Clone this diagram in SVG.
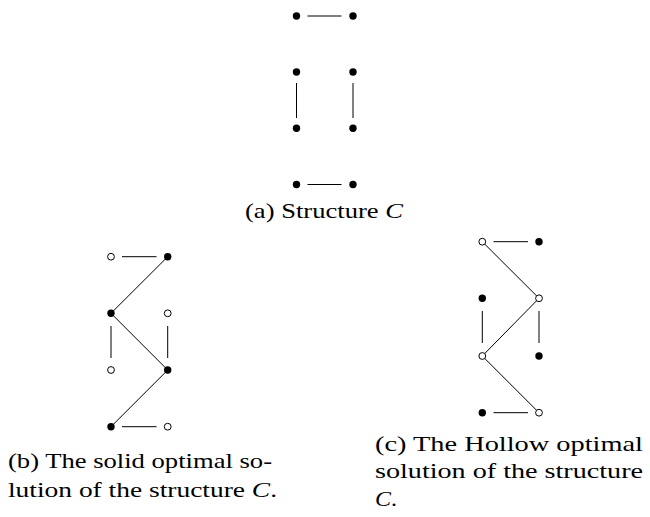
<svg xmlns="http://www.w3.org/2000/svg" width="650" height="517" viewBox="0 0 650 517">
<style>
.e{stroke:#000;stroke-width:1;fill:none}
.s{fill:#000}
.h{fill:#fff;stroke:#000;stroke-width:1}
text{font-family:"Liberation Serif","DejaVu Serif",serif;font-size:21px;fill:#000}
.i{font-style:italic}
</style>
<rect width="650" height="517" fill="#fff"/>
<g id="connectors">
<path class="e" d="M307.5 16H341.5M307.5 184.5H341.5M296.5 83V118M353 83V118"/>
<path class="e" d="M122 256.7H156.5M167.7 256.7L111 313.3L167.7 370L111 426.7M122 426.7H156.5M111 326V358M167.7 326V358"/>
<path class="e" d="M493.5 241.7H528M482.3 241.7L539 298.3L482.3 356L539 412.7M493.5 412.7H528M482.3 311V343M539 311V343"/>
</g>
<g id="a-nodes">
<circle id="a1" class="s" cx="296.5" cy="16" r="3.7"/>
<circle id="a2" class="s" cx="353" cy="16" r="3.7"/>
<circle id="a3" class="s" cx="296.5" cy="72" r="3.7"/>
<circle id="a4" class="s" cx="353" cy="72" r="3.7"/>
<circle id="a5" class="s" cx="296.5" cy="128.3" r="3.7"/>
<circle id="a6" class="s" cx="353" cy="128.3" r="3.7"/>
<circle id="a7" class="s" cx="296.5" cy="184.5" r="3.7"/>
<circle id="a8" class="s" cx="353" cy="184.5" r="3.7"/>
</g>
<g id="b-nodes">
<circle id="b1" class="h" cx="111" cy="256.7" r="3.4"/>
<circle id="b2" class="s" cx="167.7" cy="256.7" r="3.7"/>
<circle id="b3" class="s" cx="111" cy="313.3" r="3.7"/>
<circle id="b4" class="h" cx="167.7" cy="313.3" r="3.4"/>
<circle id="b5" class="h" cx="111" cy="370" r="3.4"/>
<circle id="b6" class="s" cx="167.7" cy="370" r="3.7"/>
<circle id="b7" class="s" cx="111" cy="426.7" r="3.7"/>
<circle id="b8" class="h" cx="167.7" cy="426.7" r="3.4"/>
</g>
<g id="c-nodes">
<circle id="c1" class="h" cx="482.3" cy="241.7" r="3.4"/>
<circle id="c2" class="s" cx="539" cy="241.7" r="3.7"/>
<circle id="c3" class="s" cx="482.3" cy="298.3" r="3.7"/>
<circle id="c4" class="h" cx="539" cy="298.3" r="3.4"/>
<circle id="c5" class="h" cx="482.3" cy="356" r="3.4"/>
<circle id="c6" class="s" cx="539" cy="356" r="3.7"/>
<circle id="c7" class="s" cx="482.3" cy="412.7" r="3.7"/>
<circle id="c8" class="h" cx="539" cy="412.7" r="3.4"/>
</g>
<g id="captions">
<text x="245" y="218" textLength="158" lengthAdjust="spacingAndGlyphs">(a) Structure <tspan class="i">C</tspan></text>
<text x="8" y="468" textLength="264" lengthAdjust="spacingAndGlyphs">(b) The solid optimal so-</text>
<text x="8" y="496.5" textLength="269" lengthAdjust="spacingAndGlyphs">lution of the structure <tspan class="i">C</tspan>.</text>
<text x="375" y="450.5" textLength="268" lengthAdjust="spacingAndGlyphs">(c) The Hollow optimal</text>
<text x="375" y="478" textLength="268" lengthAdjust="spacingAndGlyphs">solution of the structure</text>
<text x="375" y="505.5" textLength="22" lengthAdjust="spacingAndGlyphs"><tspan class="i">C</tspan>.</text>
</g>
</svg>
